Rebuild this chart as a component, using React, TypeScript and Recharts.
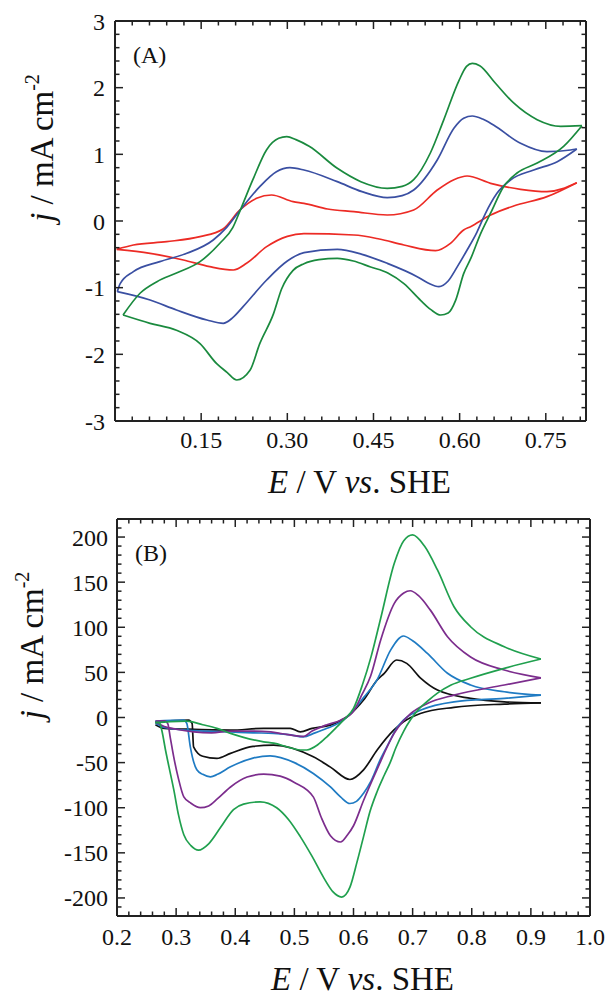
import React from 'react';
import { LineChart, Line, XAxis, YAxis, Label } from 'recharts';

type Pt = [number, number];

// ---- panel A: E (V vs SHE), j (mA cm-2) ----
const aGreenFwd: Pt[] = [[0.014,-1.41],[0.044,-1.08],[0.073,-0.91],[0.107,-0.78],[0.148,-0.61],[0.183,-0.33],[0.205,-0.1],[0.218,0.16],[0.24,0.62],[0.264,1.07],[0.285,1.24],[0.299,1.265],[0.315,1.22],[0.338,1.12],[0.387,0.79],[0.428,0.59],[0.474,0.49],[0.5,0.52],[0.52,0.62],[0.549,1.02],[0.572,1.51],[0.599,2.11],[0.612,2.32],[0.622,2.365],[0.635,2.33],[0.662,2.07],[0.694,1.77],[0.735,1.52],[0.776,1.42],[0.813,1.43]];
const aGreenRev: Pt[] = [[0.813,1.43],[0.781,1.12],[0.735,0.87],[0.7,0.72],[0.677,0.52],[0.654,0.12],[0.636,-0.2],[0.62,-0.55],[0.607,-0.79],[0.593,-1.19],[0.58,-1.38],[0.567,-1.41],[0.55,-1.33],[0.532,-1.19],[0.503,-0.94],[0.475,-0.78],[0.445,-0.69],[0.415,-0.6],[0.387,-0.56],[0.355,-0.58],[0.329,-0.64],[0.31,-0.74],[0.29,-1.02],[0.276,-1.39],[0.252,-1.84],[0.235,-2.24],[0.212,-2.385],[0.195,-2.27],[0.177,-2.14],[0.148,-1.84],[0.107,-1.64],[0.061,-1.535],[0.014,-1.41]];
const aBlueFwd: Pt[] = [[0.004,-1.06],[0.009,-0.94],[0.032,-0.76],[0.078,-0.61],[0.125,-0.485],[0.171,-0.285],[0.194,-0.1],[0.218,0.165],[0.252,0.515],[0.281,0.74],[0.3045,0.8],[0.329,0.765],[0.387,0.59],[0.43,0.44],[0.474,0.35],[0.5,0.38],[0.52,0.465],[0.561,0.915],[0.59,1.39],[0.607,1.54],[0.622,1.575],[0.64,1.53],[0.659,1.44],[0.706,1.165],[0.752,1.04],[0.793,1.065],[0.804,1.08]];
const aBlueRev: Pt[] = [[0.804,1.08],[0.77,0.89],[0.729,0.765],[0.6885,0.615],[0.665,0.415],[0.645,0.115],[0.63,-0.17],[0.612,-0.45],[0.596,-0.685],[0.58,-0.9],[0.564,-0.985],[0.545,-0.93],[0.526,-0.835],[0.474,-0.635],[0.43,-0.5],[0.387,-0.425],[0.329,-0.475],[0.3,-0.6],[0.264,-0.885],[0.223,-1.285],[0.205,-1.45],[0.1885,-1.535],[0.16,-1.485],[0.107,-1.335],[0.061,-1.185],[0.004,-1.06]];
const aRedFwd: Pt[] = [[0.003,-0.425],[0.032,-0.36],[0.09,-0.31],[0.148,-0.235],[0.188,-0.12],[0.2175,0.165],[0.2465,0.34],[0.2725,0.39],[0.31,0.29],[0.329,0.265],[0.37,0.18],[0.416,0.14],[0.474,0.09],[0.52,0.165],[0.561,0.465],[0.59,0.62],[0.613,0.675],[0.654,0.565],[0.706,0.475],[0.752,0.44],[0.804,0.575]];
const aRedRev: Pt[] = [[0.804,0.575],[0.752,0.365],[0.694,0.225],[0.654,0.09],[0.619,-0.085],[0.607,-0.135],[0.584,-0.335],[0.558,-0.445],[0.503,-0.36],[0.46,-0.27],[0.416,-0.21],[0.329,-0.19],[0.3,-0.23],[0.264,-0.385],[0.229,-0.635],[0.206,-0.735],[0.165,-0.685],[0.119,-0.585],[0.061,-0.485],[0.003,-0.425]];

// ---- panel B ----
const bGreenFwd: Pt[] = [[0.265,-6],[0.29,-4.5],[0.318,-4],[0.345,-8],[0.369,-12],[0.392,-17.6],[0.414,-22],[0.448,-27],[0.465,-28.5],[0.49,-33],[0.51,-36],[0.521,-36],[0.54,-30],[0.555,-21.4],[0.571,-11],[0.583,-3],[0.6,10],[0.615,36],[0.63,68],[0.646,110],[0.669,171],[0.685,196],[0.7,202.3],[0.72,190],[0.742,163.5],[0.77,122.8],[0.798,100.6],[0.855,78.4],[0.917,64.8]];
const bGreenRev: Pt[] = [[0.917,64.8],[0.855,54.5],[0.798,43.5],[0.765,36],[0.742,27],[0.725,18],[0.71,9],[0.697,-2],[0.685,-15],[0.672,-33],[0.662,-50],[0.652,-64],[0.64,-82],[0.628,-104],[0.617,-132],[0.606,-160],[0.594,-188],[0.58,-199],[0.565,-193],[0.55,-178],[0.53,-154],[0.51,-132],[0.49,-113],[0.47,-100],[0.442,-93.5],[0.414,-96],[0.397,-102],[0.375,-122],[0.355,-140],[0.338,-147],[0.325,-142],[0.313,-130],[0.304,-108],[0.296,-80],[0.288,-55],[0.282,-36],[0.276,-15],[0.272,-6],[0.265,-5]];
const bPurpleFwd: Pt[] = [[0.265,-5],[0.28,-10],[0.3,-13],[0.33,-16],[0.36,-17],[0.392,-15],[0.43,-15],[0.46,-16],[0.48,-18],[0.5,-20],[0.515,-21],[0.53,-15],[0.555,-8],[0.578,-3],[0.6,7],[0.614,25],[0.629,46],[0.646,86],[0.669,126.5],[0.685,138],[0.696,140.5],[0.71,135],[0.73,119],[0.759,89.5],[0.798,67],[0.855,52.6],[0.917,44]];
const bPurpleRev: Pt[] = [[0.917,44],[0.855,36],[0.77,24.8],[0.725,15.6],[0.697,4.5],[0.6687,-17.6],[0.6395,-58],[0.617,-92],[0.6,-120],[0.59,-130],[0.578,-138],[0.561,-131],[0.545,-110],[0.532,-88],[0.5,-72],[0.476,-65],[0.448,-62.8],[0.42,-66],[0.392,-77],[0.37,-90],[0.355,-98],[0.341,-100],[0.325,-95],[0.313,-88],[0.304,-68],[0.296,-44],[0.29,-22],[0.286,-7],[0.281,-3.6],[0.265,-4]];
const bBlueFwd: Pt[] = [[0.265,-6],[0.28,-11],[0.3,-13],[0.33,-14.5],[0.392,-16],[0.43,-17],[0.465,-17.6],[0.49,-19],[0.515,-21.4],[0.535,-17],[0.555,-12],[0.583,-3],[0.6,8],[0.617,22],[0.64,42],[0.663,75],[0.6845,90.3],[0.7,85],[0.725,71],[0.759,49],[0.798,36],[0.855,28.5],[0.917,24.8]];
const bBlueRev: Pt[] = [[0.917,24.8],[0.855,21.2],[0.77,17.4],[0.714,8.2],[0.6845,-2.9],[0.673,-12],[0.66,-28],[0.645,-47],[0.63,-70],[0.617,-84],[0.605,-93],[0.594,-95.3],[0.578,-88],[0.561,-77],[0.532,-62],[0.5,-50],[0.459,-42.5],[0.43,-45],[0.392,-54.7],[0.37,-63],[0.358,-65.8],[0.345,-63],[0.335,-58],[0.324,-32.5],[0.318,-6.6],[0.313,-2.9],[0.265,-4]];
const bBlackFwd: Pt[] = [[0.265,-8],[0.28,-12],[0.32,-13],[0.392,-14],[0.448,-12],[0.493,-12],[0.51,-15.9],[0.53,-12],[0.561,-8.4],[0.589,0.8],[0.617,19.3],[0.64,41.5],[0.652,49],[0.673,63.7],[0.69,60],[0.714,43.4],[0.742,30.4],[0.798,21.2],[0.855,17.4],[0.917,16.3]];
const bBlackRev: Pt[] = [[0.917,16.3],[0.855,14.9],[0.77,11.2],[0.713,4.5],[0.6845,-4.8],[0.668,-14],[0.64,-36],[0.617,-58],[0.594,-68.7],[0.561,-55],[0.532,-43.6],[0.465,-30.6],[0.43,-32],[0.392,-39.8],[0.369,-45.4],[0.345,-43],[0.3295,-32.5],[0.327,-6.6],[0.321,-2.9],[0.265,-4.8]];

// ticks
const aXMajor = [0.15, 0.3, 0.45, 0.6, 0.75];
const aXMinor = [0.03, 0.06, 0.09, 0.12, 0.18, 0.21, 0.24, 0.27, 0.33, 0.36, 0.39, 0.42, 0.48, 0.51, 0.54, 0.57, 0.63, 0.66, 0.69, 0.72, 0.78, 0.81];
const aYMajor = [-3, -2, -1, 0, 1, 2, 3];
const aYMinor = [-2.8, -2.6, -2.4, -2.2, -1.8, -1.6, -1.4, -1.2, -0.8, -0.6, -0.4, -0.2, 0.2, 0.4, 0.6, 0.8, 1.2, 1.4, 1.6, 1.8, 2.2, 2.4, 2.6, 2.8];
const bXMajor = [0.2, 0.3, 0.4, 0.5, 0.6, 0.7, 0.8, 0.9, 1.0];
const bXMinor = [0.22, 0.24, 0.26, 0.28, 0.32, 0.34, 0.36, 0.38, 0.42, 0.44, 0.46, 0.48, 0.52, 0.54, 0.56, 0.58, 0.62, 0.64, 0.66, 0.68, 0.72, 0.74, 0.76, 0.78, 0.82, 0.84, 0.86, 0.88, 0.92, 0.94, 0.96, 0.98];
const bYMajor = [-200, -150, -100, -50, 0, 50, 100, 150, 200];
const bYMinor = [-220, -210, -190, -180, -170, -160, -140, -130, -120, -110, -90, -80, -70, -60, -40, -30, -20, -10, 10, 20, 30, 40, 60, 70, 80, 90, 110, 120, 130, 140, 160, 170, 180, 190, 210, 220];

const serif = '"Liberation Serif", "Times New Roman", Times, serif';
const ink = '#222';
const THIN = 0.01; // axes need a non-zero box to be drawn
const W = 608;

const rows = (pts: Pt[]) => pts.map(([E, j]) => ({ E, j }));
const isIn = (v: number, list: number[]) => list.some((m) => Math.abs(m - v) < 1e-9);

interface Series { name: string; color: string; fwd: Pt[]; rev: Pt[] }

const seriesA: Series[] = [
  { name: 'red', color: '#ec2b25', fwd: aRedFwd, rev: aRedRev },
  { name: 'blue', color: '#3a4fa2', fwd: aBlueFwd, rev: aBlueRev },
  { name: 'green', color: '#1a8a3e', fwd: aGreenFwd, rev: aGreenRev },
];
const seriesB: Series[] = [
  { name: 'black', color: '#111111', fwd: bBlackFwd, rev: bBlackRev },
  { name: 'blue', color: '#1f7bc3', fwd: bBlueFwd, rev: bBlueRev },
  { name: 'purple', color: '#7c2d8d', fwd: bPurpleFwd, rev: bPurpleRev },
  { name: 'green', color: '#20a04e', fwd: bGreenFwd, rev: bGreenRev },
];

interface PanelProps {
  height: number;
  margin: { top: number; right: number; bottom: number; left: number };
  xDomain: [number, number];
  yDomain: [number, number];
  xMajor: number[];
  xMinor: number[];
  yMajor: number[];
  yMinor: number[];
  xFmt: (v: number) => string;
  xTickMargin: number;
  yTickMargin: number;
  tag: string;
  yTitle: { x: number; dy: number };
  xTitle: { dx: number; dy: number };
  series: Series[];
}

function Panel(p: PanelProps) {
  const axisLine = { stroke: ink, strokeWidth: 2 };
  const common = { type: 'number' as const, allowDataOverflow: true, interval: 0 as const };
  const top = p.margin.top;
  const bottom = p.height - p.margin.bottom;
  const left = p.margin.left;
  const right = W - p.margin.right;
  const xAll = [...p.xMajor, ...p.xMinor].sort((a, b) => a - b);
  const yAll = [...p.yMajor, ...p.yMinor].sort((a, b) => a - b);

  // bottom axis tick: inward marks at bottom and top of the frame, label for majors
  const xTick = (props: any) => {
    const v = props.payload.value;
    const cx = props.payload.coordinate ?? props.x;
    const major = isIn(v, p.xMajor);
    const len = major ? 8 : 4.5;
    return (
      <g>
        <line x1={cx} x2={cx} y1={bottom} y2={bottom - len} stroke={ink} strokeWidth={1.5} />
        <line x1={cx} x2={cx} y1={top} y2={top + len} stroke={ink} strokeWidth={1.5} />
        {major && (
          <text x={cx} y={bottom + p.xTickMargin} dy="0.71em" textAnchor="middle" fontFamily={serif} fontSize={24} fill="#111">
            {p.xFmt(v)}
          </text>
        )}
      </g>
    );
  };
  const yTick = (props: any) => {
    const v = props.payload.value;
    const cy = props.payload.coordinate ?? props.y;
    const major = isIn(v, p.yMajor);
    const len = major ? 8 : 4.5;
    return (
      <g>
        <line x1={left} x2={left + len} y1={cy} y2={cy} stroke={ink} strokeWidth={1.5} />
        <line x1={right} x2={right - len} y1={cy} y2={cy} stroke={ink} strokeWidth={1.5} />
        {major && (
          <text x={left - p.yTickMargin} y={cy} dy="0.355em" textAnchor="end" fontFamily={serif} fontSize={24} fill="#111">
            {String(v)}
          </text>
        )}
      </g>
    );
  };
  const xTitle = (props: any) => {
    const vb = props.viewBox || {};
    return (
      <text x={vb.x + vb.width / 2 + p.xTitle.dx} y={vb.y + p.xTitle.dy} textAnchor="middle" fontFamily={serif} fontSize={33} fill="#111">
        <tspan fontStyle="italic">E</tspan> / V <tspan fontStyle="italic">vs</tspan>. SHE
      </text>
    );
  };
  const yTitle = (props: any) => {
    const vb = props.viewBox || {};
    const cy = vb.y + vb.height / 2 + p.yTitle.dy;
    return (
      <text x={p.yTitle.x} y={cy} transform={`rotate(-90 ${p.yTitle.x} ${cy})`} textAnchor="middle" fontFamily={serif} fontSize={33} fill="#111">
        <tspan fontStyle="italic">j</tspan> / mA cm<tspan dy={-14} fontSize={20}>-2</tspan>
      </text>
    );
  };
  const tag = (props: any) => {
    const vb = props.viewBox || {};
    return (
      <text x={vb.x + 18} y={vb.y + 42} fontFamily={serif} fontSize={24} fill="#111">{p.tag}</text>
    );
  };

  return (
    <LineChart width={W} height={p.height} margin={p.margin}>
      <XAxis {...common} xAxisId="x" dataKey="E" orientation="bottom" domain={p.xDomain} ticks={xAll}
        height={THIN} tickSize={0} tickMargin={p.xTickMargin} axisLine={axisLine} tickLine={false} tick={xTick}>
        <Label content={xTitle} />
      </XAxis>
      <YAxis {...common} yAxisId="y" dataKey="j" orientation="left" domain={p.yDomain} ticks={yAll}
        width={THIN} tickSize={0} tickMargin={p.yTickMargin} axisLine={axisLine} tickLine={false} tick={yTick}>
        <Label content={yTitle} />
      </YAxis>
      {/* top and right frame lines */}
      <XAxis {...common} xAxisId="xt" dataKey="E" orientation="top" mirror domain={p.xDomain} ticks={p.xMajor}
        height={THIN} axisLine={axisLine} tickLine={false} tick={false}>
        <Label content={tag} />
      </XAxis>
      <YAxis {...common} yAxisId="yr" dataKey="j" orientation="right" mirror domain={p.yDomain} ticks={p.yMajor}
        width={THIN} axisLine={axisLine} tickLine={false} tick={false} />
      {p.series.flatMap((s) => [
        <Line key={s.name + '-f'} data={rows(s.fwd)} dataKey="j" xAxisId="x" yAxisId="y" type="monotone"
          stroke={s.color} strokeWidth={1.7} dot={false} activeDot={false} isAnimationActive={false} />,
        <Line key={s.name + '-r'} data={rows(s.rev)} dataKey="j" xAxisId="x" yAxisId="y" type="monotone"
          stroke={s.color} strokeWidth={1.7} dot={false} activeDot={false} isAnimationActive={false} />,
      ])}
    </LineChart>
  );
}

export default function App() {
  return (
    <div style={{ position: 'absolute', left: 0, top: 0, width: 608, height: 996, background: '#fff' }}>
      <div style={{ position: 'absolute', left: 0, top: 0 }}>
        <Panel
          height={500}
          margin={{ top: 21, right: 22, bottom: 79, left: 115 }}
          xDomain={[0, 0.82]}
          yDomain={[-3, 3]}
          xMajor={aXMajor}
          xMinor={aXMinor}
          yMajor={aYMajor}
          yMinor={aYMinor}
          xFmt={(v) => v.toFixed(2)}
          xTickMargin={10}
          yTickMargin={10}
          tag="(A)"
          yTitle={{ x: 53, dy: -73 }}
          xTitle={{ dx: 9, dy: 72 }}
          series={seriesA}
        />
      </div>
      <div style={{ position: 'absolute', left: 0, top: 500 }}>
        <Panel
          height={496}
          margin={{ top: 19, right: 18, bottom: 80, left: 117 }}
          xDomain={[0.2, 1.0]}
          yDomain={[-220, 220]}
          xMajor={bXMajor}
          xMinor={bXMinor}
          yMajor={bYMajor}
          yMinor={bYMinor}
          xFmt={(v) => v.toFixed(1)}
          xTickMargin={12}
          yTickMargin={9}
          tag="(B)"
          yTitle={{ x: 43, dy: -72 }}
          xTitle={{ dx: 9, dy: 74 }}
          series={seriesB}
        />
      </div>
    </div>
  );
}
